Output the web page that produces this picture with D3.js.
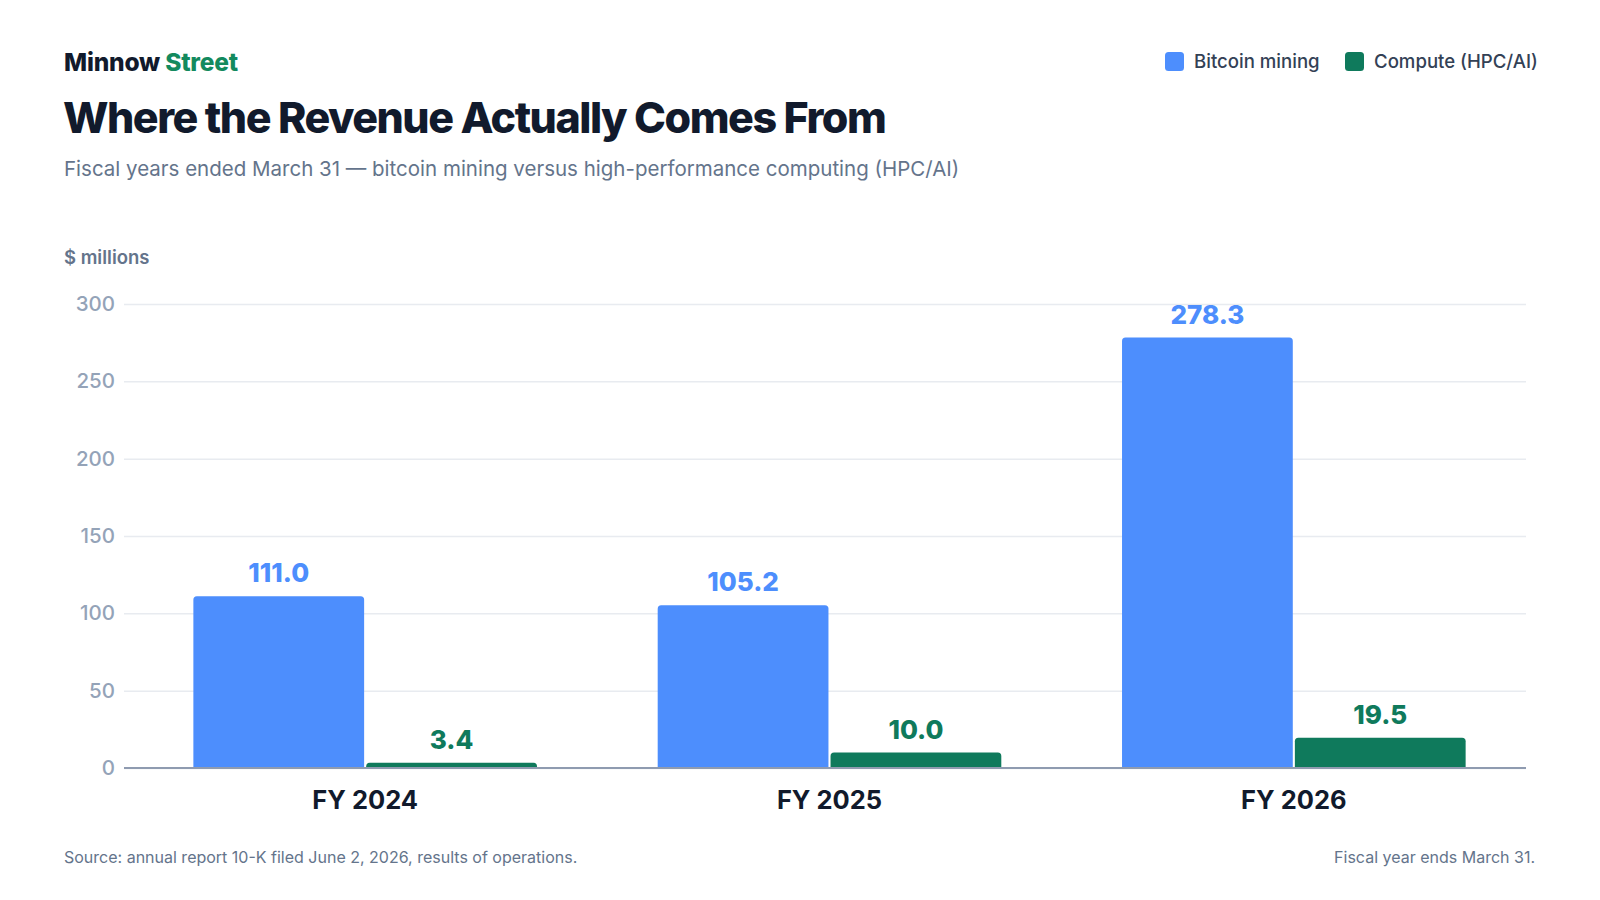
<!DOCTYPE html>
<html>
<head>
<meta charset="utf-8">
<script src="https://cdn.jsdelivr.net/npm/d3@7"></script>
<style>
  html, body { margin: 0; padding: 0; background: #ffffff; }
  svg { display: block; font-family: Inter, "Noto Sans", sans-serif; }
</style>
</head>
<body>
<div id="container"></div>
<script>
// chart data
const years = ["FY 2024", "FY 2025", "FY 2026"];
const seriesNames = ["Bitcoin mining", "Compute (HPC/AI)"];
const bitcoinMining = [111.0, 105.2, 278.3];
const computeHpc = [3.4, 10.0, 19.5];
const yTicks = [0, 50, 100, 150, 200, 250, 300];

const colors = ["#4d8efd", "#0f7a5c"];

// build rows for the grouped bars
const rows = years.map((y, i) => ({
  year: y,
  values: [
    { key: seriesNames[0], value: bitcoinMining[i] },
    { key: seriesNames[1], value: computeHpc[i] }
  ]
}));

const width = 1600;
const height = 900;
const plot = { left: 124, right: 1526, top: 304, bottom: 768 };

const svg = d3.select("#container")
  .append("svg")
  .attr("width", width)
  .attr("height", height)
  .attr("viewBox", `0 0 ${width} ${height}`);

/*=========== HEADER ===========*/
const brand = svg.append("text")
  .attr("x", 64)
  .attr("y", 71)
  .attr("font-size", 24.5)
  .attr("font-weight", 800)
  .attr("letter-spacing", -0.2);
brand.append("tspan").attr("fill", "#111a2c").text("Minnow ");
brand.append("tspan").attr("fill", "#138a5e").text("Street");

svg.append("text")
  .attr("x", 63)
  .attr("y", 133)
  .attr("font-size", 43)
  .attr("font-weight", 800)
  .attr("letter-spacing", -1.5)
  .attr("fill", "#111a2c")
  .text("Where the Revenue Actually Comes From");

svg.append("text")
  .attr("x", 64)
  .attr("y", 175.5)
  .attr("font-size", 20.5)
  .attr("fill", "#64748b")
  .text("Fiscal years ended March 31 — bitcoin mining versus high-performance computing (HPC/AI)");

// legend
const legendItems = [
  { name: seriesNames[0], x: 1165, color: colors[0] },
  { name: seriesNames[1], x: 1345, color: colors[1] }
];
const legend = svg.append("g").attr("class", "legend");
legendItems.forEach(d => {
  legend.append("rect")
    .attr("x", d.x)
    .attr("y", 52)
    .attr("width", 19)
    .attr("height", 19)
    .attr("rx", 3.5)
    .attr("fill", d.color);
  legend.append("text")
    .attr("x", d.x + 29)
    .attr("y", 68)
    .attr("font-size", 18.6)
    .attr("font-weight", 500)
    .attr("fill", "#334155")
    .text(d.name);
});

svg.append("text")
  .attr("x", 64)
  .attr("y", 264)
  .attr("font-size", 18.5)
  .attr("font-weight", 600)
  .attr("fill", "#64748b")
  .text("$ millions");

/*=========== SCALES ===========*/
const yScale = d3.scaleLinear()
  .domain([0, 300])
  .range([plot.bottom, plot.top]);

const x0 = d3.scaleBand()
  .domain(years)
  .range([plot.left + 9, plot.right])
  .paddingInner(0.26)
  .paddingOuter(0.13);

const x1 = d3.scaleBand()
  .domain(seriesNames)
  .range([0, x0.bandwidth()])
  .paddingInner(0.012);

/*=========== GRID + Y AXIS ===========*/
const yAxis = d3.axisLeft(yScale)
  .tickValues(yTicks)
  .tickSize(-(plot.right - plot.left))
  .tickPadding(9)
  .tickFormat(d3.format("d"));

const yG = svg.append("g")
  .attr("transform", `translate(${plot.left}, 0)`)
  .call(yAxis);

yG.select(".domain").remove();
yG.selectAll(".tick line")
  .attr("stroke", "#e8ebf0")
  .attr("stroke-width", 1.5);
yG.selectAll(".tick text")
  .attr("font-size", 20.5)
  .attr("font-weight", 500)
  .attr("font-family", "Inter, sans-serif")
  .attr("fill", "#94a3b8");

/*=========== BARS ===========*/
const topRounded = (x, y, w, h, r) => {
  r = Math.min(r, h, w / 2);
  return `M${x},${y + h}V${y + r}Q${x},${y} ${x + r},${y}H${x + w - r}Q${x + w},${y} ${x + w},${y + r}V${y + h}Z`;
};

const groups = svg.selectAll(".year")
  .data(rows)
  .enter()
  .append("g")
  .attr("class", "year")
  .attr("transform", d => `translate(${x0(d.year)}, 0)`);

groups.selectAll("path")
  .data(d => d.values)
  .enter()
  .append("path")
  .attr("fill", (d, i) => colors[i])
  .attr("d", d => topRounded(x1(d.key), yScale(d.value), x1.bandwidth(), yScale(0) - yScale(d.value), 3.5));

groups.selectAll(".value")
  .data(d => d.values)
  .enter()
  .append("text")
  .attr("class", "value")
  .attr("x", d => x1(d.key) + x1.bandwidth() / 2)
  .attr("y", d => yScale(d.value) - 14)
  .attr("text-anchor", "middle")
  .attr("font-size", 26)
  .attr("font-weight", 800)
  .attr("fill", (d, i) => colors[i])
  .text(d => d3.format(".1f")(d.value));

// baseline
svg.append("line")
  .attr("x1", plot.left)
  .attr("x2", plot.right)
  .attr("y1", yScale(0))
  .attr("y2", yScale(0))
  .attr("stroke", "#8f9bb0")
  .attr("stroke-width", 2);

/*=========== X AXIS ===========*/
const xAxis = d3.axisBottom(x0).tickSize(0).tickPadding(23);
const xG = svg.append("g")
  .attr("transform", `translate(0, ${yScale(0)})`)
  .call(xAxis);
xG.select(".domain").remove();
xG.selectAll(".tick text")
  .attr("font-size", 25.5)
  .attr("font-weight", 700)
  .attr("font-family", "Inter, sans-serif")
  .attr("fill", "#111a2c");

/*=========== FOOTER ===========*/
svg.append("text")
  .attr("x", 64)
  .attr("y", 863)
  .attr("font-size", 16)
  .attr("fill", "#64748b")
  .text("Source: annual report 10-K filed June 2, 2026, results of operations.");

svg.append("text")
  .attr("x", 1535)
  .attr("y", 863)
  .attr("text-anchor", "end")
  .attr("font-size", 16)
  .attr("fill", "#64748b")
  .text("Fiscal year ends March 31.");
</script>
</body>
</html>
